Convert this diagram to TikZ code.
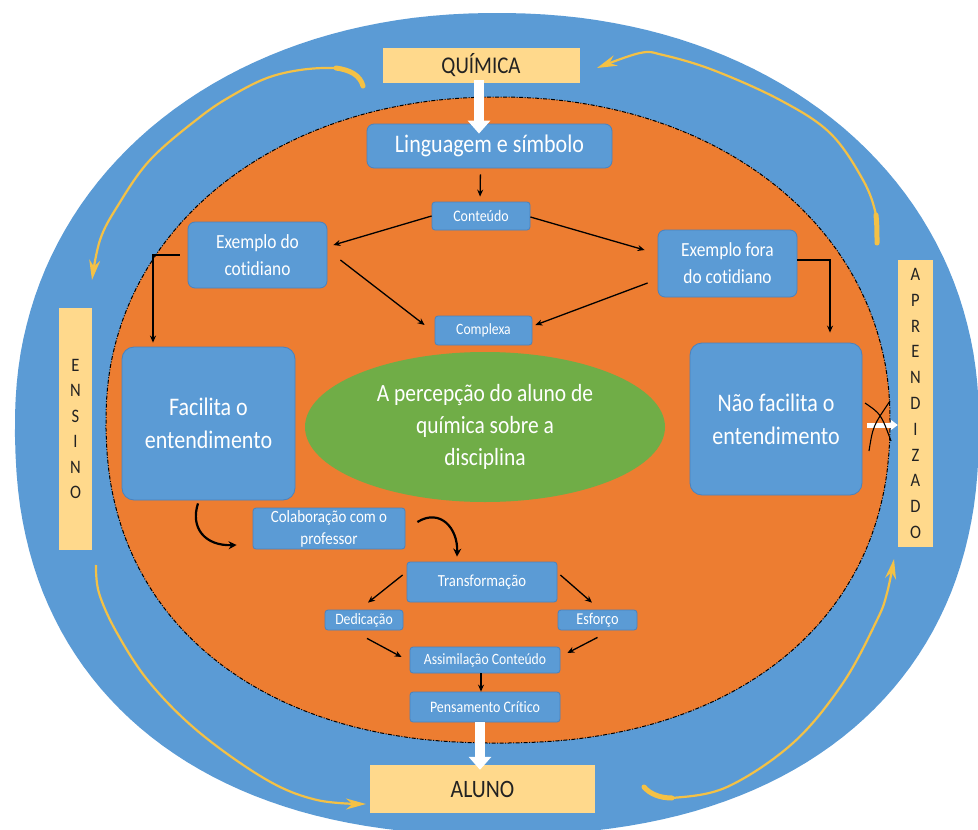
\documentclass[tikz,border=0pt]{standalone}
\usepackage{fontspec}
\setmainfont{Carlito}[FakeStretch=0.87,Ligatures=NoCommon]
\usetikzlibrary{arrows.meta,shapes.geometric}
\definecolor{ringblue}{HTML}{5B9BD5}
\definecolor{boxblue}{HTML}{5B9BD5}
\definecolor{boxedge}{HTML}{4A82BE}
\definecolor{orangefill}{HTML}{ED7D31}
\definecolor{leafgreen}{HTML}{70AD47}
\definecolor{barfill}{HTML}{FFD98C}
\definecolor{arcyellow}{HTML}{F4C145}
\definecolor{bartext}{HTML}{222222}
\begin{document}
\begin{tikzpicture}[x=1pt,y=-1pt,
  bigbox/.style={fill=boxblue,draw=boxedge,line width=0.8pt,rounded corners=12pt,text=white,align=center,inner sep=0pt},
  midbox/.style={fill=boxblue,draw=boxedge,line width=0.8pt,rounded corners=7pt,text=white,align=center,inner sep=0pt},
  smallbox/.style={fill=boxblue,draw=boxedge,line width=0.8pt,rounded corners=3pt,text=white,align=center,inner sep=0pt},
  ybar/.style={fill=barfill,draw=none,inner sep=0pt,align=center,text=bartext},
  arr/.style={draw=black,line width=1.3pt,-{Stealth[length=7pt,width=6pt]}},
  curvearr/.style={draw=black,line width=2.2pt,-{Stealth[length=8pt,width=8pt]}},
  whitearrow/.style={draw=white,line width=10pt,-{Triangle[length=13pt,width=22pt]}},
  yarc/.style={draw=arcyellow,line width=2.2pt,-{Stealth[length=20pt,width=11pt]}},
  yhook/.style={draw=arcyellow,line width=5pt,line cap=round}
]
\useasboundingbox (0,0) rectangle (978,830);
% rings: near-elliptic outlines, a little fuller in the lower half
\fill[ringblue]
  plot[domain=1:179,samples=90,variable=\t] ({497+482*sign(cos(\t))*abs(cos(\t))^0.87},{424+411*abs(sin(\t))^0.87})
  -- plot[domain=181:359,samples=90,variable=\t] ({497+482*sign(cos(\t))*abs(cos(\t))^0.95},{424-411*abs(sin(\t))^0.95}) -- cycle;
\draw[fill=orangefill,draw=black,line width=1pt,dash pattern=on 4pt off 1.5pt on 1pt off 1.5pt]
  plot[domain=1:179,samples=90,variable=\t] ({498+392*sign(cos(\t))*abs(cos(\t))^0.9},{420+323*abs(sin(\t))^0.9})
  -- plot[domain=181:359,samples=90,variable=\t] ({498+392*sign(cos(\t))*abs(cos(\t))^0.96},{420-323*abs(sin(\t))^0.96}) -- cycle;

% yellow cycle arcs
\draw[yhook] (363,86) .. controls (360,75) and (350,70) .. (336,68);
\draw[yarc] plot[smooth,tension=0.6] coordinates {(362,84) (352,72) (333,68) (300,70) (267,78) (233,95) (200,117) (150,160) (117,207) (100,240) (92,280)};
\draw[yhook] (877,243) .. controls (877,232) and (877,225) .. (876,215);
\draw[yarc] plot[smooth,tension=0.6] coordinates {(877,243) (876,215) (863,180) (830,133) (780,100) (713,70) (663,55) (640,53) (597,68)};
\draw[yarc] plot[smooth,tension=0.6] coordinates {(96,565) (99,593) (117,633) (150,683) (200,733) (267,780) (317,800) (366,804)};
\draw[yhook] (644,787) .. controls (650,794) and (660,798) .. (672,798);
\draw[yarc] plot[smooth,tension=0.6] coordinates {(645,787) (655,795) (672,798) (727,787) (793,743) (843,683) (877,620) (887,593) (894,559)};

% bars
\node[ybar,minimum width=197pt,minimum height=35pt,font=\fontsize{24}{28}\selectfont] (quim) at (481,65.5) {QUÍMICA};
\node[ybar,minimum width=225pt,minimum height=48pt,font=\fontsize{25}{28}\selectfont] (aluno) at (482.5,789) {ALUNO};
\node[ybar,minimum width=33pt,minimum height=242pt,font=\fontsize{19}{25.4}\selectfont] (ens) at (75.5,429) {E\\N\\S\\I\\N\\O};
\node[ybar,minimum width=35pt,minimum height=287pt,font=\fontsize{19}{25.8}\selectfont] (apr) at (915.5,403.5) {A\\P\\R\\E\\N\\D\\I\\Z\\A\\D\\O};

% inner boxes
\node[midbox,minimum width=245pt,minimum height=44pt,font=\fontsize{25.3}{28}\selectfont] (ling) at (489.5,146) {Linguagem e símbolo};
\node[smallbox,minimum width=98pt,minimum height=28pt,font=\fontsize{16}{18}\selectfont] (cont) at (481,216) {Conteúdo};
\node[midbox,minimum width=139pt,minimum height=66pt,font=\fontsize{20}{27}\selectfont] (ex1) at (257.5,255) {Exemplo do\\cotidiano};
\node[midbox,minimum width=139pt,minimum height=67pt,font=\fontsize{20}{27}\selectfont] (ex2) at (727.5,263.5) {Exemplo fora\\do cotidiano};
\node[smallbox,minimum width=97pt,minimum height=29pt,font=\fontsize{15.7}{18}\selectfont] (comp) at (483.5,330.5) {Complexa};
\node[ellipse,fill=leafgreen,minimum width=360pt,minimum height=150pt,inner sep=0pt,text=white,align=center,font=\fontsize{24.7}{32}\selectfont] (perc) at (485,427) {A percepção do aluno de\\química sobre a\\disciplina};
\node[bigbox,minimum width=173pt,minimum height=153pt,font=\fontsize{25.3}{33}\selectfont] (fac) at (208.5,423.5) {Facilita o\\entendimento};
\node[bigbox,minimum width=172pt,minimum height=152pt,font=\fontsize{25.3}{33}\selectfont] (nfac) at (776,419) {Não facilita o\\entendimento};
\node[smallbox,minimum width=152pt,minimum height=41pt,font=\fontsize{17.2}{22}\selectfont] (colab) at (329,528.5) {Colaboração com o\\professor};
\node[smallbox,minimum width=150pt,minimum height=40pt,font=\fontsize{16.9}{18}\selectfont] (trans) at (482,582) {Transformação};
\node[smallbox,minimum width=78pt,minimum height=20pt,font=\fontsize{15.8}{17}\selectfont] (ded) at (364,620) {Dedicação};
\node[smallbox,minimum width=79pt,minimum height=20pt,font=\fontsize{16.5}{17}\selectfont] (esf) at (597.5,620) {Esforço};
\node[smallbox,minimum width=150pt,minimum height=26pt,font=\fontsize{15.7}{17}\selectfont] (assim) at (485,660) {Assimilação Conteúdo};
\node[smallbox,minimum width=150pt,minimum height=30pt,font=\fontsize{16}{17}\selectfont] (pens) at (485,707) {Pensamento Crítico};

% connectors
\draw[whitearrow] ([xshift=-2pt,yshift=3pt]quim.south) -- ([xshift=-10.5pt,yshift=-10pt]ling.north);
\draw[arr,shorten <=6pt,shorten >=5pt] ([xshift=-9pt]ling.south) -- ([xshift=-1pt]cont.north);
\draw[arr] (cont.west) -- ([xshift=6pt,yshift=10pt]ex1.east);
\draw[arr] ([yshift=-1pt]cont.east) -- ([xshift=-13pt,yshift=13.5pt]ex2.west);
\draw[arr] ([xshift=13pt,yshift=-5pt]ex1.east) -- ([xshift=-10pt,yshift=5.5pt]comp.west);
\draw[arr] ([xshift=-10pt,yshift=-19.5pt]ex2.west) -- ([xshift=3pt,yshift=5.5pt]comp.east);
\draw[arr,shorten >=4pt] ([xshift=-8pt]ex1.west) -| ([xshift=-55.5pt]fac.north);
\draw[arr,shorten >=10pt] ([yshift=3.5pt]ex2.east) -| ([xshift=54pt]nfac.north);
\draw[curvearr] ([xshift=-10.5pt,yshift=-3pt]fac.south) .. controls (190,528) and (205,546) .. ([xshift=-16pt,yshift=-16.5pt]colab.west);
\draw[curvearr] ([xshift=12pt,yshift=6.5pt]colab.east) .. controls (440,508) and (458,528) .. ([xshift=-25pt,yshift=5pt]trans.north);
\draw[arr] ([xshift=-4pt,yshift=7pt]trans.west) -- ([xshift=4pt,yshift=7pt]ded.north);
\draw[arr] ([xshift=3pt,yshift=7pt]trans.east) -- ([xshift=-5.5pt,yshift=7pt]esf.north);
\draw[arr] ([xshift=3pt,yshift=-8pt]ded.south) -- ([xshift=-8pt,yshift=3pt]assim.west);
\draw[arr] ([yshift=-7pt]esf.south) -- ([xshift=7pt,yshift=7pt]assim.east);
\draw[arr] ([xshift=-4pt]assim.south) -- ([xshift=-4pt]pens.north);
\draw[whitearrow] ([xshift=-5pt]pens.south) -- ([xshift=-2.5pt,yshift=-5pt]aluno.north);
\draw[draw=white,line width=5pt,-{Triangle[length=7pt,width=10pt]}] ([xshift=5pt,yshift=-6pt]nfac.east) -- ([yshift=-21.5pt]apr.west);
\coordinate (xa1) at (865,403); \coordinate (xa2) at (891,441);
\coordinate (xb1) at (890,401); \coordinate (xb2) at (869,451);
\draw[black,line width=1.1pt] (xa1) .. controls (881,414) .. (xa2);
\draw[black,line width=1.1pt] (xb1) .. controls (873,426) .. (xb2);
\end{tikzpicture}
\end{document}
